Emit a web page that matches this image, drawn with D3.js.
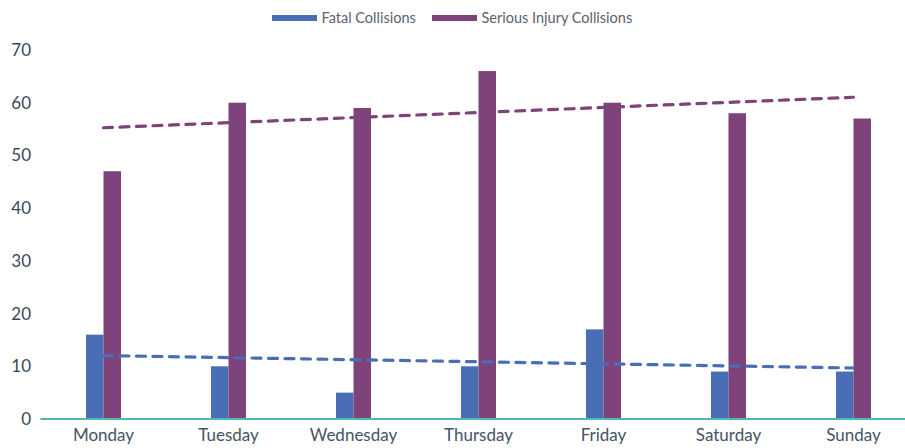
<!DOCTYPE html>
<html><head><meta charset="utf-8">
<script src="https://cdn.jsdelivr.net/npm/d3@7"></script>
<style>
html,body{margin:0;padding:0;background:#fff;}
svg{display:block;font-family:Lato,"Noto Sans",sans-serif;}
</style></head>
<body>
<svg id="chart" width="905" height="448"></svg>
<script>
const days = ["Monday","Tuesday","Wednesday","Thursday","Friday","Saturday","Sunday"];
const fatal = [16,10,5,10,17,9,9];
const serious = [47,60,59,66,60,58,57];
const yTicks = [0,10,20,30,40,50,60,70];
const seriesNames = ["Fatal Collisions","Serious Injury Collisions"];
const colors = ["#4a6eb6","#7d437a"];

const svg = d3.select("#chart");
const x = d3.scaleBand().domain(days).range([41,916]);
const y = d3.scaleLinear().domain([0,70]).range([419,50]);
const bw = 17.5;

// y tick labels
svg.append("g").selectAll("text").data(yTicks).join("text")
  .attr("x",31).attr("y",d=>y(d)).attr("dy","0.35em")
  .attr("text-anchor","end").attr("fill","#3d4857")
  .style("font-size","17px").text(d=>d);

// bars
const series = [fatal, serious];
series.forEach((vals,si)=>{
  svg.append("g").selectAll("rect").data(vals).join("rect")
    .attr("x",(d,i)=>x(days[i])+x.bandwidth()/2 + (si===0?-bw:0))
    .attr("y",d=>y(d)).attr("width",bw).attr("height",d=>y(0)-y(d))
    .attr("fill",colors[si]);
});

// axis line
svg.append("line").attr("x1",40.5).attr("x2",905).attr("y1",y(0)).attr("y2",y(0))
  .attr("stroke","#4dbab2").attr("stroke-width",2.2);

// x labels
svg.append("g").selectAll("text").data(days).join("text")
  .attr("x",d=>x(d)+x.bandwidth()/2).attr("y",441)
  .attr("text-anchor","middle").attr("fill","#465465")
  .style("font-size","17px").text(d=>d);

// linear trendlines (least squares over category index)
function trend(vals){
  const n=vals.length, xs=d3.range(n);
  const mx=d3.mean(xs), my=d3.mean(vals);
  const sxy=d3.sum(xs,(v,i)=>(v-mx)*(vals[i]-my));
  const sxx=d3.sum(xs,v=>(v-mx)*(v-mx));
  const b=sxy/sxx, a=my-b*mx;
  return [[0,a],[n-1,a+b*(n-1)]];
}
const line = d3.line().x(d=>x(days[d[0]])+x.bandwidth()/2).y(d=>y(d[1]));
series.forEach((vals,si)=>{
  svg.append("path").attr("d",line(trend(vals)))
    .attr("fill","none").attr("stroke",colors[si]).attr("stroke-width",3.2)
    .attr("stroke-dasharray","9,7.5").attr("stroke-linecap","round");
});

// legend
const legX=[272,432];
seriesNames.forEach((n,i)=>{
  svg.append("rect").attr("x",legX[i]).attr("y",15).attr("width",45).attr("height",6).attr("fill",colors[i]);
  svg.append("text").attr("x",legX[i]+49.5).attr("y",18).attr("dy","0.35em")
    .attr("fill","#5a6270").style("font-size","14.5px").text(n);
});
</script>
</body></html>
